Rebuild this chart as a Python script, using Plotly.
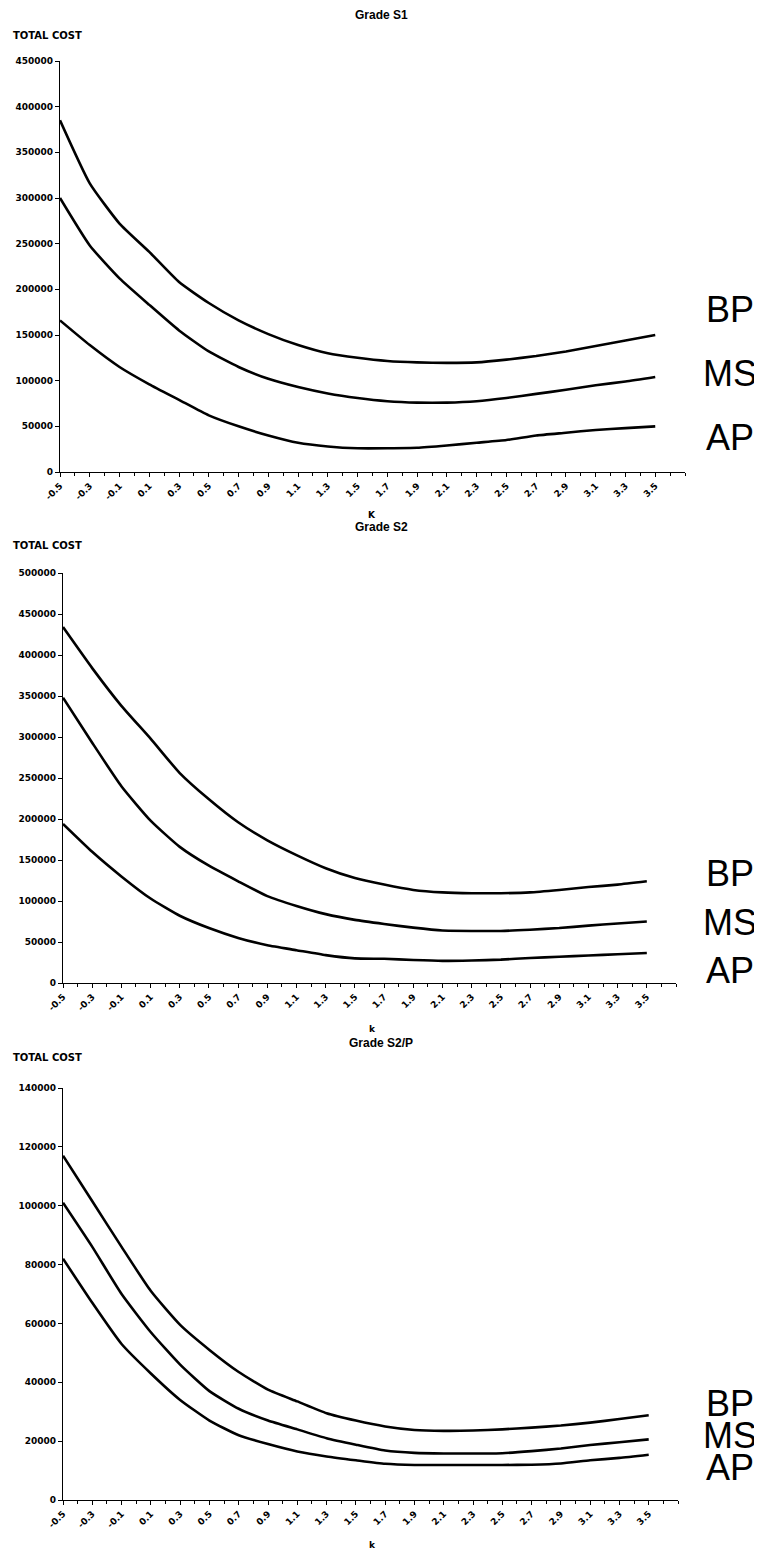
import plotly.graph_objects as go

# k values (every 0.2)
k = [-0.5, -0.3, -0.1, 0.1, 0.3, 0.5, 0.7, 0.9, 1.1, 1.3, 1.5, 1.7, 1.9, 2.1, 2.3, 2.5, 2.7, 2.9, 3.1, 3.3, 3.5]
k_labels = ["-0.5", "-0.3", "-0.1", "0.1", "0.3", "0.5", "0.7", "0.9", "1.1", "1.3", "1.5",
            "1.7", "1.9", "2.1", "2.3", "2.5", "2.7", "2.9", "3.1", "3.3", "3.5"]

# Grade S1
s1_bp = [385000, 316000, 272000, 241000, 208000, 185000, 166000, 151000, 139000, 130000, 125000,
         121500, 120000, 119500, 120000, 123000, 127000, 132000, 138000, 144000, 150000]
s1_ms = [300000, 248000, 212000, 183000, 155000, 132000, 115000, 102000, 93000, 86000, 81000,
         77500, 76000, 76000, 77500, 81000, 85500, 90000, 95000, 99000, 104000]
s1_ap = [166000, 139000, 115000, 96000, 79000, 62000, 50000, 40000, 32000, 28000, 26000,
         26000, 26500, 29000, 32000, 35000, 40000, 43000, 46000, 48000, 50000]

# Grade S2
s2_bp = [434000, 384000, 338000, 298000, 256000, 224000, 196000, 174000, 156000, 140000, 128000,
         120000, 113500, 110500, 109500, 109500, 110500, 113500, 117000, 120000, 124000]
s2_ms = [348000, 293000, 240000, 198000, 166000, 143000, 124000, 106000, 94000, 84000, 77000,
         72000, 67500, 64000, 63500, 63500, 65000, 67000, 70000, 72500, 75000]
s2_ap = [194000, 160000, 130000, 103000, 82000, 67000, 55000, 46000, 40000, 34000, 30000,
         29500, 28000, 27000, 27500, 28500, 30500, 32000, 33500, 35000, 36500]

# Grade S2/P
s2p_bp = [117000, 101500, 86000, 71000, 59500, 51000, 43500, 37500, 33500, 29500, 27000,
          25000, 23800, 23500, 23600, 24000, 24600, 25300, 26300, 27500, 28800]
s2p_ms = [101000, 86000, 70000, 57000, 46000, 37000, 31000, 27000, 24000, 21000, 18800,
          16800, 16000, 15800, 15800, 15900, 16600, 17500, 18700, 19600, 20600]
s2p_ap = [82000, 67000, 53000, 43000, 34000, 27000, 22000, 19000, 16500, 14800, 13500,
          12300, 11900, 11900, 11900, 11900, 12000, 12400, 13500, 14300, 15400]

titles = ["Grade S1", "Grade S2", "Grade S2/P"]
xtitles = ["K", "k", "k"]
series_names = ["BP", "MS", "AP"]
panels = [(s1_bp, s1_ms, s1_ap), (s2_bp, s2_ms, s2_ap), (s2p_bp, s2p_ms, s2p_ap)]
y_max = [450000, 500000, 140000]
y_dtick = [50000, 50000, 20000]

# page offset (default body margin of the html page)
OFF = 8
W, H = 762 - OFF, 1550 - OFF
ARIAL = "Liberation Sans, Arial, sans-serif"
DEJAVU = "DejaVu Sans, Verdana, sans-serif"


def px(x):
    return (x - OFF) / W


def py(y):
    return 1 - (y - OFF) / H


# window-pixel layout (left, right, top, bottom) of each plot area
boxes = [(60, 685, 61, 472), (63, 676, 573, 983), (63, 678, 1088, 1500)]
title_y = [15, 527, 1043]
ytitle_y = [35, 545, 1057]
xtitle_y = [515, 1029, 1545]
label_y = [(310, 373, 437), (873, 922, 970), (1403, 1435, 1467)]

fig = go.Figure()
layout = {}
annotations = []

for i, (series, box) in enumerate(zip(panels, boxes)):
    n = "" if i == 0 else str(i + 1)
    l, r, t, b = box
    for name, vals in zip(series_names, series):
        fig.add_trace(go.Scatter(x=k, y=vals, mode="lines", name=name,
                                 line=dict(color="black", width=2.6, shape="spline", smoothing=0.5),
                                 xaxis="x" + n, yaxis="y" + n, showlegend=False))
    layout["xaxis" + n] = dict(
        domain=[px(l), px(r)], anchor="y" + n, range=[-0.5, 3.7], automargin=False,
        tickmode="array", tickvals=k, ticktext=k_labels, tickangle=-45,
        ticks="outside", ticklen=4, tickwidth=1, tickcolor="black",
        minor=dict(tickmode="linear", tick0=-0.5, dtick=0.1, ticks="outside",
                   ticklen=3, tickcolor="black"),
        showline=True, linecolor="black", linewidth=1.2,
        showgrid=False, zeroline=False,
        tickfont=dict(family=DEJAVU, size=9, color="black", weight="bold"),
    )
    layout["yaxis" + n] = dict(
        domain=[py(b), py(t)], anchor="x" + n, range=[0, y_max[i]], automargin=False,
        tickmode="linear", tick0=0, dtick=y_dtick[i], tickformat="d",
        ticks="outside", ticklen=4, tickwidth=1, tickcolor="black",
        showline=True, linecolor="black", linewidth=1.2,
        showgrid=False, zeroline=False,
        tickfont=dict(family=DEJAVU, size=9, color="black", weight="bold"),
    )
    annotations.append(dict(text="<b>" + titles[i] + "</b>", x=px(381), y=py(title_y[i]),
                            xref="paper", yref="paper", showarrow=False,
                            xanchor="center", yanchor="middle",
                            font=dict(family=ARIAL, size=12, color="black")))
    annotations.append(dict(text="<b>TOTAL COST</b>", x=px(11), y=py(ytitle_y[i]),
                            xref="paper", yref="paper", showarrow=False,
                            xanchor="left", yanchor="middle",
                            font=dict(family=DEJAVU, size=10, color="black")))
    annotations.append(dict(text="<b>" + xtitles[i] + "</b>", x=px(372), y=py(xtitle_y[i]),
                            xref="paper", yref="paper", showarrow=False,
                            xanchor="center", yanchor="middle",
                            font=dict(family=DEJAVU, size=9, color="black")))
    for name, ly in zip(series_names, label_y[i]):
        annotations.append(dict(text=name, x=px(730), y=py(ly),
                                xref="paper", yref="paper", showarrow=False,
                                xanchor="center", yanchor="middle",
                                font=dict(family=ARIAL, size=36, color="black")))

fig.update_layout(
    width=W, height=H,
    margin=dict(l=0, r=0, t=0, b=0, autoexpand=False),
    paper_bgcolor="white", plot_bgcolor="white",
    annotations=annotations,
    **layout,
)

fig.write_html("out.html")
